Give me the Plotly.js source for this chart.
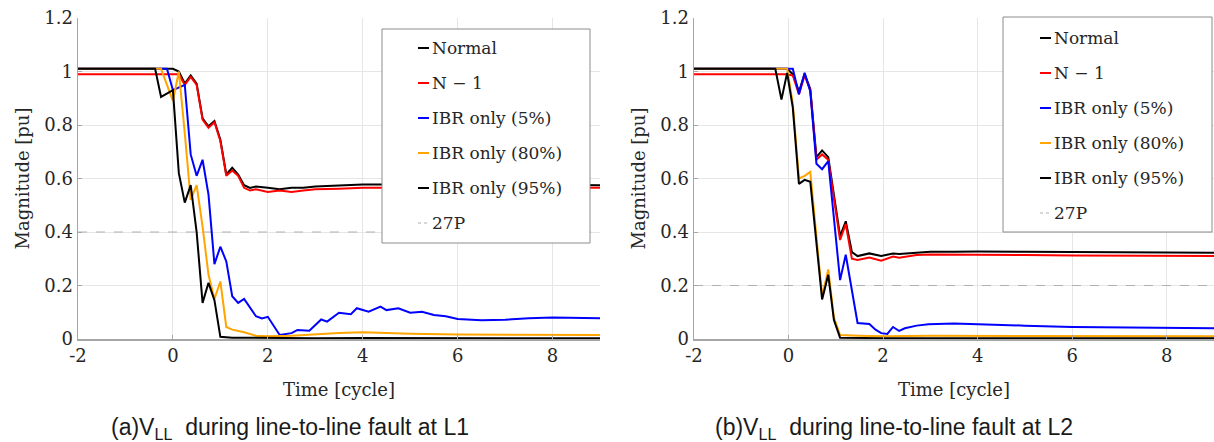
<!DOCTYPE html>
<html>
<head>
<meta charset="utf-8">
<script src="https://cdn.plot.ly/plotly-3.0.1.min.js"></script>
<style>html,body{margin:0;padding:0;background:#fff;}#chart{width:1214px;height:442px;}</style>
</head>
<body>
<div id="chart"></div>
<script>
// ---------- Data: (a) line-to-line fault at L1 ----------
const tA_normal = [-2, 0.0, 0.125, 0.25, 0.375, 0.5, 0.625, 0.75, 0.875, 1.0, 1.125, 1.25, 1.375, 1.5, 1.625, 1.75, 2.0, 2.25, 2.5, 2.75, 3.0, 3.5, 4.0, 4.5, 5.0, 6.0, 7.0, 8.0, 9.0];
const vA_normal = [1.01, 1.01, 1.0, 0.955, 0.985, 0.955, 0.825, 0.795, 0.815, 0.745, 0.615, 0.64, 0.615, 0.575, 0.565, 0.57, 0.565, 0.56, 0.565, 0.565, 0.57, 0.575, 0.578, 0.578, 0.578, 0.577, 0.577, 0.577, 0.575];
const tA_n1 = [-2, 0.0, 0.125, 0.25, 0.375, 0.5, 0.625, 0.75, 0.875, 1.0, 1.125, 1.25, 1.375, 1.5, 1.625, 1.75, 2.0, 2.25, 2.5, 2.75, 3.0, 3.5, 4.0, 4.5, 5.0, 6.0, 7.0, 8.0, 9.0];
const vA_n1 = [0.99, 0.99, 0.99, 0.95, 0.98, 0.95, 0.82, 0.79, 0.81, 0.74, 0.61, 0.63, 0.61, 0.565, 0.555, 0.56, 0.55, 0.555, 0.55, 0.555, 0.56, 0.562, 0.565, 0.565, 0.568, 0.567, 0.567, 0.566, 0.565];
const tA_ibr5 = [-2, -0.125, 0.0, 0.25, 0.375, 0.5, 0.625, 0.75, 0.875, 1.0, 1.125, 1.25, 1.375, 1.5, 1.75, 1.875, 2.0, 2.25, 2.5, 2.625, 2.875, 3.125, 3.25, 3.5, 3.75, 3.875, 4.125, 4.375, 4.5, 4.75, 5.0, 5.25, 5.5, 5.75, 6.0, 6.5, 7.0, 7.5, 8.0, 9.0];
const vA_ibr5 = [1.01, 1.01, 0.93, 0.95, 0.69, 0.61, 0.67, 0.54, 0.28, 0.345, 0.29, 0.16, 0.135, 0.15, 0.085, 0.077, 0.083, 0.015, 0.022, 0.034, 0.031, 0.073, 0.065, 0.098, 0.093, 0.115, 0.102, 0.121, 0.108, 0.115, 0.098, 0.102, 0.09, 0.085, 0.075, 0.07, 0.072, 0.078, 0.08, 0.078];
const tA_ibr80 = [-2, -0.25, 0.0, 0.125, 0.25, 0.375, 0.5, 0.625, 0.75, 0.875, 1.0, 1.125, 1.25, 1.5, 1.75, 2.0, 2.5, 3.0, 3.5, 4.0, 4.5, 5.0, 6.0, 7.0, 8.0, 9.0];
const vA_ibr80 = [1.01, 1.01, 0.89, 1.0, 0.77, 0.52, 0.575, 0.42, 0.24, 0.15, 0.215, 0.045, 0.035, 0.025, 0.012, 0.01, 0.012, 0.018, 0.022, 0.025, 0.022, 0.02, 0.017, 0.016, 0.016, 0.015];
const tA_ibr95 = [-2, -0.375, -0.25, 0.0, 0.125, 0.25, 0.375, 0.5, 0.625, 0.75, 0.875, 1.0, 1.25, 2.0, 3.0, 4.0, 5.0, 6.0, 7.0, 8.0, 9.0];
const vA_ibr95 = [1.01, 1.01, 0.905, 0.93, 0.62, 0.51, 0.575, 0.40, 0.135, 0.21, 0.145, 0.008, 0.005, 0.003, 0.003, 0.004, 0.003, 0.003, 0.003, 0.003, 0.003];

// ---------- Data: (b) line-to-line fault at L2 ----------
const tB_normal = [-2, -0.03, 0.09, 0.22, 0.34, 0.46, 0.59, 0.71, 0.84, 1.09, 1.21, 1.34, 1.46, 1.71, 1.96, 2.21, 2.34, 2.71, 3.0, 3.5, 4.0, 5.0, 6.0, 7.0, 8.0, 9.0];
const vB_normal = [1.01, 1.01, 0.99, 0.925, 0.99, 0.935, 0.68, 0.705, 0.68, 0.385, 0.44, 0.325, 0.31, 0.32, 0.31, 0.32, 0.318, 0.324, 0.326, 0.326, 0.327, 0.326, 0.325, 0.324, 0.323, 0.322];
const tB_n1 = [-2, -0.03, 0.09, 0.22, 0.34, 0.46, 0.59, 0.71, 0.84, 1.09, 1.21, 1.34, 1.46, 1.71, 1.96, 2.21, 2.34, 2.71, 3.0, 3.5, 4.0, 5.0, 6.0, 7.0, 8.0, 9.0];
const vB_n1 = [0.99, 0.99, 0.985, 0.915, 0.985, 0.93, 0.67, 0.69, 0.67, 0.37, 0.43, 0.30, 0.295, 0.305, 0.293, 0.308, 0.304, 0.314, 0.316, 0.316, 0.316, 0.314, 0.312, 0.311, 0.31, 0.31];
const tB_ibr5 = [-2, 0.09, 0.22, 0.34, 0.46, 0.59, 0.71, 0.84, 1.09, 1.21, 1.46, 1.71, 1.84, 1.96, 2.09, 2.21, 2.34, 2.46, 2.71, 2.96, 3.5, 4.0, 4.5, 5.0, 6.0, 7.0, 8.0, 9.0];
const vB_ibr5 = [1.01, 1.01, 0.915, 0.995, 0.925, 0.655, 0.635, 0.665, 0.22, 0.315, 0.06, 0.056, 0.035, 0.022, 0.019, 0.045, 0.03, 0.04, 0.05, 0.055, 0.058, 0.056, 0.052, 0.05, 0.045, 0.043, 0.04, 0.04];
const tB_ibr80 = [-2, -0.03, 0.09, 0.22, 0.34, 0.46, 0.71, 0.84, 0.96, 1.09, 1.5, 2.0, 3.0, 4.0, 6.0, 9.0];
const vB_ibr80 = [1.01, 1.01, 0.88, 0.60, 0.61, 0.625, 0.16, 0.26, 0.08, 0.015, 0.012, 0.01, 0.012, 0.012, 0.01, 0.01];
const tB_ibr95 = [-2, -0.28, -0.15, -0.03, 0.09, 0.22, 0.34, 0.46, 0.71, 0.84, 0.96, 1.09, 2.0, 9.0];
const vB_ibr95 = [1.01, 1.01, 0.895, 0.995, 0.865, 0.58, 0.595, 0.588, 0.148, 0.24, 0.071, 0.005, 0.003, 0.003];

// ---------- 27P threshold ----------
const t27 = [-2, 9];
const vA_27p = [0.4, 0.4];
const vB_27p = [0.2, 0.2];

// ---------- Labels ----------
const seriesNames = ['Normal', 'N \u2212 1', 'IBR only (5%)', 'IBR only (80%)', 'IBR only (95%)', '27P'];
const seriesColors = ['#000000', '#ff0000', '#0000ff', '#ffa500', '#000000', '#b0b0b0'];
const xTickVals = [-2, 0, 2, 4, 6, 8];
const xTickText = ['-2', '0', '2', '4', '6', '8'];
const yTickVals = [0, 0.2, 0.4, 0.6, 0.8, 1, 1.2];
const yTickText = ['0', '0.2', '0.4', '0.6', '0.8', '1', '1.2'];
const captionA = '(a)V<sub>LL</sub>  during line-to-line fault at L1';
const captionB = '(b)V<sub>LL</sub>  during line-to-line fault at L2';

// ---------- Build ----------
const W = 1214, H = 442;
const px = v => v / W;
const py = v => 1 - v / H;

const dataA = [[tA_normal, vA_normal], [tA_n1, vA_n1], [tA_ibr5, vA_ibr5], [tA_ibr80, vA_ibr80], [tA_ibr95, vA_ibr95]];
const dataB = [[tB_normal, vB_normal], [tB_n1, vB_n1], [tB_ibr5, vB_ibr5], [tB_ibr80, vB_ibr80], [tB_ibr95, vB_ibr95]];

const traces = [];
traces.push({x: t27, y: vA_27p, xaxis: 'x', yaxis: 'y', mode: 'lines', name: seriesNames[5], showlegend: false,
  line: {color: seriesColors[5], width: 1, dash: 'dash'}});
traces.push({x: t27, y: vB_27p, xaxis: 'x2', yaxis: 'y2', mode: 'lines', name: seriesNames[5], showlegend: false,
  line: {color: seriesColors[5], width: 1, dash: 'dash'}});
dataA.forEach((d, i) => traces.push({x: d[0], y: d[1], xaxis: 'x', yaxis: 'y', mode: 'lines', name: seriesNames[i],
  showlegend: false, line: {color: seriesColors[i], width: 2}}));
dataB.forEach((d, i) => traces.push({x: d[0], y: d[1], xaxis: 'x2', yaxis: 'y2', mode: 'lines', name: seriesNames[i],
  showlegend: false, line: {color: seriesColors[i], width: 2}}));

const serif = '"DejaVu Serif", "Liberation Serif", "Times New Roman", serif';
const tickFont = {family: serif, size: 18, color: '#262626'};
const titleFont = {family: serif, size: 18, color: '#262626'};

function xax(dom) {
  return {domain: dom, range: [-2, 9], tickvals: xTickVals, ticktext: xTickText, showgrid: true, gridcolor: '#e6e6e6', gridwidth: 1,
    zeroline: false, showline: true, linecolor: '#a6a6a6', linewidth: 1.5, ticks: 'inside', ticklen: 4,
    tickcolor: '#a6a6a6', tickfont: tickFont, title: {text: 'Time [cycle]', font: titleFont, standoff: 18}, fixedrange: true};
}
function yax(anchor) {
  return {domain: [py(339), py(18)], range: [0, 1.2], tickvals: yTickVals, ticktext: yTickText, showgrid: true, gridcolor: '#e6e6e6',
    gridwidth: 1, zeroline: false, showline: true, linecolor: '#a6a6a6', linewidth: 1.5, ticks: 'inside', ticklen: 4,
    tickcolor: '#a6a6a6', tickfont: tickFont, anchor: anchor,
    title: {text: 'Magnitude [pu]', font: titleFont, standoff: 10}, fixedrange: true};
}

const shapes = [];
const annotations = [];
function legend(boxL, boxR, boxT, boxB, symX0, rowY0, rowGap) {
  shapes.push({type: 'rect', xref: 'paper', yref: 'paper', x0: px(boxL), x1: px(boxR), y0: py(boxB), y1: py(boxT),
    line: {color: '#8c8c8c', width: 1}, fillcolor: '#ffffff', layer: 'above'});
  seriesNames.forEach((n, i) => {
    const y = rowY0 + i * rowGap;
    shapes.push({type: 'line', xref: 'paper', yref: 'paper', x0: px(symX0), x1: px(symX0 + 11), y0: py(y), y1: py(y),
      line: {color: seriesColors[i], width: i === 5 ? 1 : 2, dash: i === 5 ? 'dot' : 'solid'}, layer: 'above'});
    annotations.push({xref: 'paper', yref: 'paper', x: px(symX0 + 12), y: py(y), xanchor: 'left', yanchor: 'middle',
      text: n, showarrow: false, font: {family: serif, size: 17, color: '#262626'}});
  });
}
legend(382, 590, 29, 243, 418, 48, 35);
legend(1003, 1212, 17, 232, 1040, 38, 35);

annotations.push({xref: 'paper', yref: 'paper', x: px(290), y: py(428), xanchor: 'center', yanchor: 'middle',
  text: captionA, showarrow: false, font: {family: '"Liberation Sans", Arial, sans-serif', size: 23, color: '#1a1a1a'}});
annotations.push({xref: 'paper', yref: 'paper', x: px(894), y: py(428), xanchor: 'center', yanchor: 'middle',
  text: captionB, showarrow: false, font: {family: '"Liberation Sans", Arial, sans-serif', size: 23, color: '#1a1a1a'}});

const layout = {
  width: W, height: H, autosize: false,
  margin: {l: 0, r: 0, t: 0, b: 0, pad: 0},
  paper_bgcolor: '#ffffff', plot_bgcolor: '#ffffff',
  showlegend: false,
  xaxis: Object.assign(xax([px(78), px(600)]), {anchor: 'y'}),
  yaxis: yax('x'),
  xaxis2: Object.assign(xax([px(694), 1]), {anchor: 'y2'}),
  yaxis2: yax('x2'),
  shapes: shapes,
  annotations: annotations
};

Plotly.newPlot('chart', traces, layout, {staticPlot: true, displayModeBar: false});
</script>
</body>
</html>
